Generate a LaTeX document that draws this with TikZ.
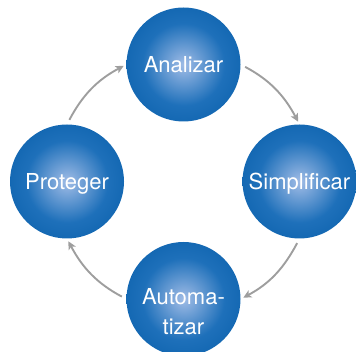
\documentclass[tikz,border=0pt]{standalone}
\usepackage{fontspec}
\setmainfont{TeX Gyre Heros}
\usetikzlibrary{arrows.meta}

\definecolor{ballinner}{RGB}{160,188,230}
\definecolor{ballmid}{RGB}{30,112,186}
\definecolor{ballouter}{RGB}{0,88,164}
\definecolor{flowgray}{RGB}{158,158,158}
\pgfdeclareradialshading{stepshade}{\pgfpointorigin}{color(0bp)=(ballinner); color(18bp)=(ballmid); color(40bp)=(ballouter); color(50bp)=(ballouter)}

\tikzset{
  stepball/.style={circle, minimum size=114pt, inner sep=0pt, shading=stepshade,
    text=white, font=\fontsize{22}{30}\selectfont, align=center, text depth=0pt},
  steptext/.style={text=white, font=\fontsize{22}{30}\selectfont, align=center, inner sep=0pt},
  flow/.style={draw=flowgray, line width=1.9pt, -{Stealth[length=8pt,width=8pt,inset=2pt]},
    shorten <=5pt, shorten >=3pt}
}

\begin{document}
\begin{tikzpicture}[x=1pt,y=1pt]
\useasboundingbox (0,0) rectangle (356,352);

\node[stepball] (ana) at (183.5,287.5) {Analizar};
\node[stepball] (sim) at (299.5,170.5) {Simplificar};
\node[stepball] (auto) at (183.5,53) {};
\node[steptext] (autotext) at ([yshift=-12.5pt]auto.center) {Automa-\\tizar};
\node[stepball] (prot) at (67,170.5) {Proteger};

\draw[flow] (ana.east) to[out=-28,in=118] (sim.north);
\draw[flow] (sim.south) to[out=-118,in=28] (auto.east);
\draw[flow] (auto.west) to[out=152,in=-62] (prot.south);
\draw[flow] (prot.north) to[out=62,in=-152] (ana.west);

\end{tikzpicture}
\end{document}
